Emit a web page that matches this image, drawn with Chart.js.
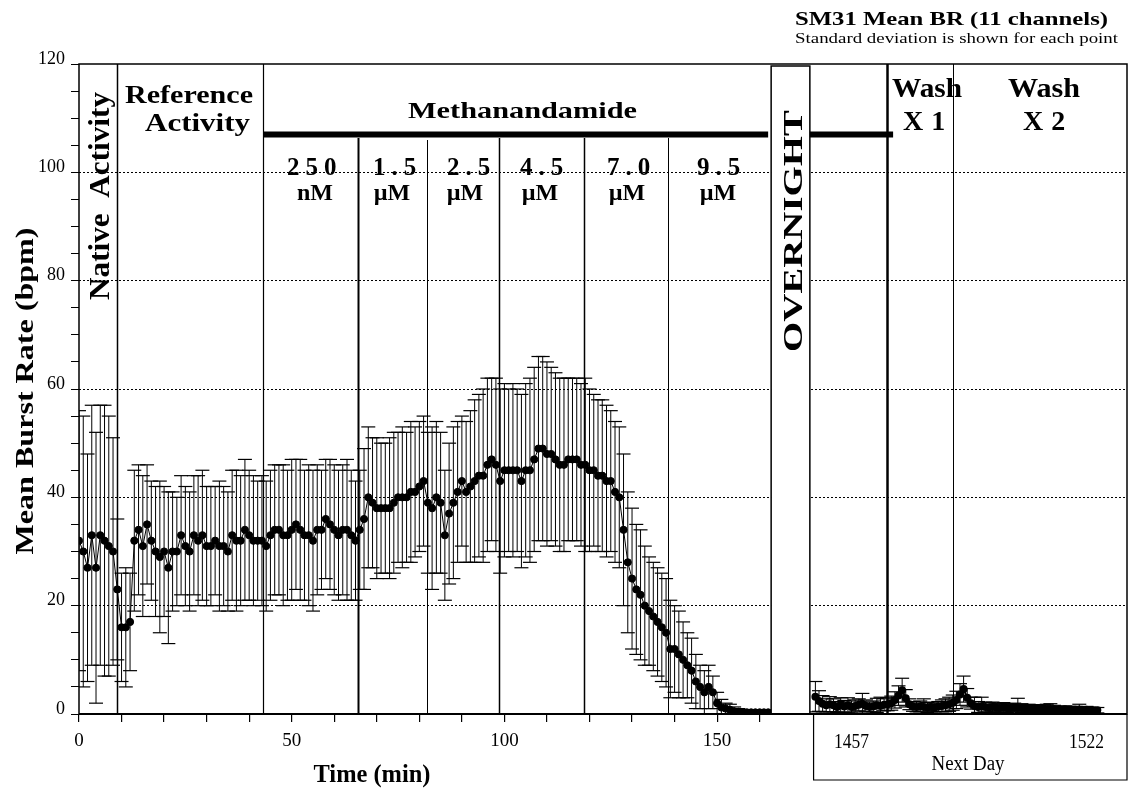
<!DOCTYPE html>
<html><head><meta charset="utf-8">
<script src="https://cdn.jsdelivr.net/npm/chart.js@4.4.0/dist/chart.umd.min.js"></script>
<style>html,body{margin:0;padding:0;background:#fff;}#wrap{width:1128px;height:788px;}</style>
</head><body><div id="wrap"><canvas id="c" width="1128" height="788"></canvas></div>
<script>
// ---- Data ----
const timeMin = [0,1,2,3,4,5,6,7,8,9,10,11,12,13,14,15,16,17,18,19,20,21,22,23,24,25,26,27,28,29,30,31,32,33,34,35,36,37,38,39,40,41,42,43,44,45,46,47,48,49,50,51,52,53,54,55,56,57,58,59,60,61,62,63,64,65,66,67,68,69,70,71,72,73,74,75,76,77,78,79,80,81,82,83,84,85,86,87,88,89,90,91,92,93,94,95,96,97,98,99,100,101,102,103,104,105,106,107,108,109,110,111,112,113,114,115,116,117,118,119,120,121,122,123,124,125,126,127,128,129,130,131,132,133,134,135,136,137,138,139,140,141,142,143,144,145,146,147,148,149,150,151,152,153,154,155,156,157,158,159,160,161,162];
const meanBR = [32,30,27,33,27,33,32,31,30,23,16,16,17,32,34,31,35,32,30,29,30,27,30,30,33,31,30,33,32,33,31,31,32,31,31,30,33,32,32,34,33,32,32,32,31,33,34,34,33,33,34,35,34,33,33,32,34,34,36,35,34,33,34,34,33,32,34,36,40,39,38,38,38,38,39,40,40,40,41,41,42,43,39,38,40,39,33,37,39,41,43,41,42,43,44,44,46,47,46,43,45,45,45,45,43,45,45,47,49,49,48,48,47,46,46,47,47,47,46,46,45,45,44,44,43,43,41,40,34,28,25,23,22,20,19,18,17,16,15,12,12,11,10,9,8,6,5,4,5,4,2,1.2,1,0.8,0.5,0.4,0.3,0.3,0.3,0.3,0.3,0.3,0.3];
const sdBR = [24,25,21,24,25,24,25,24,21,13,10,11,9,13,12,13,11,11,12,14,12,14,11,10,11,11,11,11,12,12,11,11,10,12,11,11,12,13,12,13,12,12,11,12,12,12,12,12,13,12,13,12,13,12,13,13,12,11,11,12,12,12,12,13,12,11,11,13,13,12,13,12,12,13,13,12,13,12,13,12,12,12,13,15,14,13,12,13,14,13,12,13,14,15,15,16,16,15,16,17,16,15,16,15,16,16,17,17,17,17,17,16,16,16,16,15,15,15,15,16,15,14,14,14,14,13,13,13,14,13,13,12,12,11,10,10,10,10,10,9,8,8,7,6,6,5,4,4,4,3,2,1.5,1,1,0.8,0.6,0.5,0.5,0.4,0.4,0.4,0.4,0.4];
const nextDayTime = [1447,1448,1449,1450,1451,1452,1453,1454,1455,1456,1457,1458,1459,1460,1461,1462,1463,1464,1465,1466,1467,1468,1469,1470,1471,1472,1473,1474,1475,1476,1477,1478,1479,1480,1481,1482,1483,1484,1485,1486,1487,1488,1489,1490,1491,1492,1493,1494,1495,1496,1497,1498,1499,1500,1501,1502,1503,1504,1505,1506,1507,1508,1509,1510,1511,1512,1513,1514,1515,1516,1517,1518,1519,1520,1521,1522,1523,1524,1525];
const nextDayMean = [3.2,2.4,1.9,1.6,1.8,1.6,1.3,1.7,1.4,1.6,1.3,1.5,1.7,1.9,1.5,1.3,1.4,1.6,1.5,1.7,1.8,2.0,2.6,3.4,4.4,2.9,1.8,1.4,1.3,1.4,1.3,1.2,1.3,1.2,1.4,1.5,1.6,1.8,2.1,2.6,3.6,4.6,3.0,2.0,1.5,1.3,1.4,1.3,1.2,1.3,1.2,1.1,1.2,1.1,1.1,1.2,1.1,1.1,1.0,1.1,1.0,1.0,0.9,1.0,0.9,0.9,0.9,0.8,0.8,0.9,0.8,0.8,0.8,0.8,0.7,0.8,0.7,0.7,0.7];
const nextDaySD = [2.8,1.9,1.5,1.2,1.4,1.2,1.0,1.3,1.1,1.4,1.1,1.1,1.1,1.9,1.1,0.9,1.0,1.3,1.6,1.1,1.2,1.3,1.5,1.8,2.2,1.6,1.0,0.9,0.9,1.0,1.5,0.9,0.9,0.8,0.9,1.1,1.2,1.3,1.4,1.6,2.0,2.4,1.7,1.1,1.6,1.0,1.7,0.9,0.9,0.9,0.8,0.8,0.9,0.8,0.7,0.8,1.8,0.8,0.7,0.7,0.7,0.7,0.7,0.7,0.9,1.0,0.7,0.6,0.6,0.6,0.6,0.6,0.6,1.0,0.6,0.6,0.5,0.5,0.5];
const yLabelValues = [0,20,40,60,80,100,120];
const xTickValues = [0,10,20,30,40,50,60,70,80,90,100,110,120,130,140,150,160];
const xLabelValues = [0,50,100,150];
const nextDayLabels = [1457,1522];
const concNumbers = ['250','1.5','2.5','4.5','7.0','9.5'];
const concUnits = ['nM','\u00b5M','\u00b5M','\u00b5M','\u00b5M','\u00b5M'];

// ---- Layout (pixel / axis positions, not data) ----
const PHASE_LINES = [[8.9,64,1.5],[43.3,64,1.2],[65.6,138,2],[81.8,140,1],[98.8,138,1.5],[118.8,138,1.5],[138.5,138,1]];
const OVERNIGHT = [162.7,171.8];
const WASH_LINES = [[1466.8,2.5],[1485,1]];
const SERIF = '"Liberation Serif","Times New Roman",serif';

function txt(ctx, s, x, y, o) {
  ctx.save();
  ctx.font = (o.bold ? 'bold ' : '') + o.size + 'px ' + SERIF;
  if (o.spacing) ctx.letterSpacing = o.spacing + 'px';
  ctx.fillStyle = '#000';
  ctx.textAlign = o.align || 'left';
  ctx.textBaseline = 'alphabetic';
  ctx.translate(x, y);
  if (o.rot) ctx.rotate(o.rot);
  if (o.width) { const w = ctx.measureText(s).width; ctx.scale(o.width / w, 1); }
  ctx.fillText(s, 0, 0);
  ctx.restore();
}
function lo(m, s) { return Math.max(0, m - s); }

const deco = {
  id: 'deco',
  beforeDatasetsDraw(chart) {
    const { ctx, chartArea: a, scales: { x, y, x2 } } = chart;
    ctx.save();
    ctx.strokeStyle = '#000';
    PHASE_LINES.forEach(([t, top, w]) => {
      const px = Math.round(x.getPixelForValue(t)) + 0.5;
      ctx.lineWidth = w;
      ctx.beginPath(); ctx.moveTo(px, top); ctx.lineTo(px, a.bottom); ctx.stroke();
    });
    WASH_LINES.forEach(([t, w]) => {
      const px = Math.round(x2.getPixelForValue(t)) + 0.5;
      ctx.lineWidth = w;
      ctx.beginPath(); ctx.moveTo(px, a.top); ctx.lineTo(px, a.bottom); ctx.stroke();
    });
    ctx.restore();
  },
  afterDatasetsDraw(chart) {
    const { ctx, chartArea: a, scales: { x, y, x2 } } = chart;
    ctx.save();
    ctx.strokeStyle = '#000';
    const ox0 = x.getPixelForValue(OVERNIGHT[0]), ox1 = x.getPixelForValue(OVERNIGHT[1]);
    ctx.fillStyle = '#fff';
    ctx.fillRect(ox0, a.top + 2, ox1 - ox0, a.bottom - a.top - 2);
    ctx.lineWidth = 1.5;
    ctx.strokeRect(ox0, a.top + 2, ox1 - ox0, a.bottom - a.top - 2);
    const by = y.getPixelForValue(107);
    ctx.lineWidth = 6;
    ctx.beginPath();
    ctx.moveTo(x.getPixelForValue(43.3), by); ctx.lineTo(ox0 - 3, by);
    ctx.moveTo(ox1, by); ctx.lineTo(x2.getPixelForValue(1468.5), by);
    ctx.stroke();
    ctx.lineWidth = 1.5;
    ctx.strokeRect(a.left, a.top, a.right - a.left, a.bottom - a.top);
    ctx.lineWidth = 2;
    ctx.beginPath(); ctx.moveTo(a.left, a.bottom); ctx.lineTo(a.right, a.bottom); ctx.stroke();
    const nx = x2.getPixelForValue(1446.5);
    ctx.lineWidth = 1.2;
    ctx.beginPath(); ctx.moveTo(nx, a.bottom); ctx.lineTo(nx, 780); ctx.lineTo(a.right, 780); ctx.lineTo(a.right, a.bottom); ctx.stroke();
    ctx.restore();

    txt(ctx, 'SM31 Mean BR (11 channels)', 795, 25, { size: 19, bold: true, width: 313 });
    txt(ctx, 'Standard deviation is shown for each point', 795, 43, { size: 15, width: 323 });
    txt(ctx, 'Reference', 125, 103, { size: 26, bold: true, width: 128 });
    txt(ctx, 'Activity', 145, 131, { size: 26, bold: true, width: 105 });
    txt(ctx, 'Native  Activity', 109, 300, { size: 30, bold: true, rot: -Math.PI / 2, width: 208 });
    txt(ctx, 'Methanandamide', 408, 118, { size: 24, bold: true, width: 229 });
    const numLeft = [287, 373, 447, 520, 607, 697];
    const unitCenter = [315, 392, 465, 540, 627, 718];
    concNumbers.forEach((s, i) => txt(ctx, s, numLeft[i], 175, { size: 25, bold: true, spacing: 6 }));
    concUnits.forEach((s, i) => txt(ctx, s, unitCenter[i], 200, { size: 24, bold: true, align: 'center' }));
    txt(ctx, 'OVERNIGHT', 802, 352, { size: 28, bold: true, rot: -Math.PI / 2, width: 242 });
    txt(ctx, 'Wash', 892, 97, { size: 28, bold: true, width: 70 });
    txt(ctx, 'X1', 903, 130, { size: 28, bold: true, spacing: 8 });
    txt(ctx, 'Wash', 1008, 97, { size: 28, bold: true, width: 72 });
    txt(ctx, 'X2', 1023, 130, { size: 28, bold: true, spacing: 8 });
    txt(ctx, 'Mean Burst Rate (bpm)', 33, 391, { size: 26, bold: true, rot: -Math.PI / 2, align: 'center', width: 327 });
    txt(ctx, 'Time (min)', 372, 782, { size: 25, bold: true, align: 'center', width: 117 });
    nextDayLabels.forEach(v => txt(ctx, String(v), x2.getPixelForValue(v), 748, { size: 20, align: 'center', width: 35 }));
    txt(ctx, 'Next Day', 968, 770, { size: 20, align: 'center', width: 73 });
  }
};

const errMain = timeMin.map((t, i) => ({ x: t, y: [lo(meanBR[i], sdBR[i]), meanBR[i] + sdBR[i]] }));
const errNext = nextDayTime.map((t, i) => ({ x: t, y: [lo(nextDayMean[i], nextDaySD[i]), nextDayMean[i] + nextDaySD[i]] }));
const capStyle = { type: 'scatter', showLine: false, pointStyle: 'line', pointRadius: 7, pointHoverRadius: 7, pointBorderColor: '#000', pointBorderWidth: 1.2, borderColor: '#000', order: 2 };

new Chart(document.getElementById('c'), {
  type: 'line',
  data: {
    datasets: [
      { type: 'bar', xAxisID: 'x', data: errMain, backgroundColor: '#000', borderWidth: 0, maxBarThickness: 1, grouped: false, order: 3 },
      { type: 'bar', xAxisID: 'x2', data: errNext, backgroundColor: '#000', borderWidth: 0, maxBarThickness: 1, grouped: false, order: 3 },
      Object.assign({ xAxisID: 'x', data: timeMin.map((t, i) => ({ x: t, y: meanBR[i] + sdBR[i] })) }, capStyle),
      Object.assign({ xAxisID: 'x', data: timeMin.map((t, i) => ({ x: t, y: lo(meanBR[i], sdBR[i]) })) }, capStyle),
      Object.assign({ xAxisID: 'x2', data: nextDayTime.map((t, i) => ({ x: t, y: nextDayMean[i] + nextDaySD[i] })) }, capStyle),
      Object.assign({ xAxisID: 'x2', data: nextDayTime.map((t, i) => ({ x: t, y: lo(nextDayMean[i], nextDaySD[i]) })) }, capStyle),
      { type: 'line', xAxisID: 'x', data: timeMin.map((t, i) => ({ x: t, y: meanBR[i] })), borderColor: '#000', borderWidth: 1, pointRadius: 3.6, pointBackgroundColor: '#000', pointBorderColor: '#000', tension: 0, order: 1 },
      { type: 'line', xAxisID: 'x2', data: nextDayTime.map((t, i) => ({ x: t, y: nextDayMean[i] })), borderColor: '#000', borderWidth: 2, pointRadius: 3, pointBackgroundColor: '#000', pointBorderColor: '#000', tension: 0, order: 1 }
    ]
  },
  options: {
    responsive: false, animation: false, devicePixelRatio: 1,
    layout: { autoPadding: false, padding: { top: 64, right: 1, bottom: 0, left: 0 } },
    plugins: { legend: { display: false }, tooltip: { enabled: false }, title: { display: false } },
    scales: {
      x: {
        type: 'linear', position: 'bottom', min: 0, max: 246.35, offset: false,
        afterBuildTicks: s => { s.ticks = xTickValues.map(v => ({ value: v })); },
        afterFit: s => { s.height = 74; s.paddingLeft = 0; s.paddingRight = 0; },
        grid: { offset: false, drawOnChartArea: false, drawTicks: true, tickLength: 8, color: '#000', tickColor: '#000', lineWidth: 1.2 },
        border: { display: false },
        ticks: { autoSkip: false, maxRotation: 0, padding: 8, color: '#000', font: { family: SERIF, size: 19 },
          callback: v => xLabelValues.includes(v) ? String(v) : '' }
      },
      x2: { type: 'linear', display: false, min: 1243.3, max: 1533.2, offset: false, grid: { offset: false } },
      y: {
        type: 'linear', min: 0, max: 120,
        afterFit: s => { s.width = 79; },
        grid: { drawTicks: true, tickLength: 8, tickColor: '#000', lineWidth: 1,
          color: c => (c.tick && c.tick.value % 20 === 0 && c.tick.value > 0 && c.tick.value < 120) ? '#000' : 'rgba(0,0,0,0)' },
        border: { display: false, dash: [2, 2] },
        ticks: { stepSize: 5, padding: 6, labelOffset: -5, color: '#000', font: { family: SERIF, size: 18 },
          callback: v => yLabelValues.includes(v) ? String(v) : '' }
      }
    }
  },
  plugins: [deco]
});
</script></body></html>
